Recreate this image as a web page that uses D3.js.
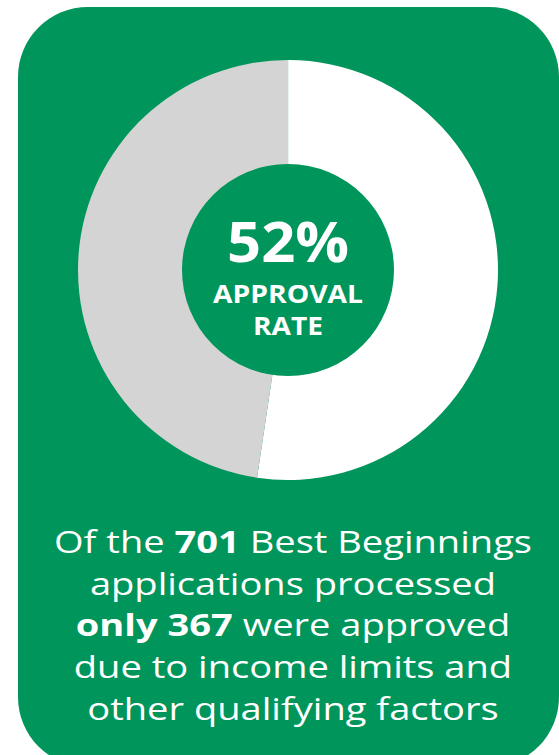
<!DOCTYPE html>
<html><head><meta charset="utf-8">
<script src="https://cdn.jsdelivr.net/npm/d3@7"></script>
<style>html,body{margin:0;padding:0;background:#fff;}svg{display:block;}</style>
</head><body>
<svg id="chart" width="559" height="755"></svg>
<script>
const categories = ["Approved", "Not approved"];
const values = [367, 334];
const sliceColors = ["#ffffff", "#d4d4d4"];
const centerLabels = ["52%", "APPROVAL", "RATE"];
const captionLines = [
  [["Of the ", false], ["701", true], [" Best Beginnings", false]],
  [["applications processed", false]],
  [["only 367", true], [" were approved", false]],
  [["due to income limits and", false]],
  [["other qualifying factors", false]]
];

const green = "#00955a";
const font = "'Open Sans', 'Noto Sans', sans-serif";
const svg = d3.select("#chart");

svg.append("rect").attr("x", 18).attr("y", 7).attr("width", 541).attr("height", 760)
  .attr("rx", 70).attr("ry", 70).attr("fill", green);

const cx = 288, cy = 270, rOuter = 210, rInner = 106;
const pie = d3.pie().sort(null).value(d => d)(values);
const arc = d3.arc().innerRadius(0).outerRadius(rOuter);
const g = svg.append("g").attr("transform", `translate(${cx},${cy})`);
g.selectAll("path").data(pie).join("path")
  .attr("d", arc).attr("fill", (d, i) => sliceColors[i]);
g.append("line").attr("x1", 0).attr("y1", -rOuter).attr("x2", 0).attr("y2", -rInner)
  .attr("stroke", "#bfe3d2").attr("stroke-width", 0.8);
g.append("circle").attr("r", rInner).attr("fill", green);

g.append("text").attr("text-anchor", "middle").attr("y", -8)
  .attr("font-family", font).attr("font-weight", 700).attr("font-size", 55)
  .attr("fill", "#fff").attr("textLength", 122).attr("lengthAdjust", "spacingAndGlyphs").text(centerLabels[0]);
g.append("text").attr("text-anchor", "middle").attr("y", 33)
  .attr("font-family", font).attr("font-weight", 700).attr("font-size", 25)
  .attr("fill", "#fff").attr("textLength", 150).attr("lengthAdjust", "spacingAndGlyphs").text(centerLabels[1]);
g.append("text").attr("text-anchor", "middle").attr("y", 65)
  .attr("font-family", font).attr("font-weight", 700).attr("font-size", 25)
  .attr("fill", "#fff").attr("textLength", 70).attr("lengthAdjust", "spacingAndGlyphs").text(centerLabels[2]);

// caption
const baseY = 553, lh = 41.7, capX = 293;
const fs = 30.4;
const cap = svg.append("g");
const texts = captionLines.map((parts, i) => {
  const t = cap.append("text").attr("x", capX).attr("y", baseY + i * lh)
    .attr("text-anchor", "middle").attr("font-family", font).attr("font-size", fs)
    .attr("fill", "#fff");
  parts.forEach(p => t.append("tspan").attr("font-weight", p[1] ? 700 : 400).text(p[0]));
  return t;
});
const k = 478 / texts[0].node().getComputedTextLength();
texts.forEach(t => {
  const w = t.node().getComputedTextLength();
  t.attr("textLength", w * k).attr("lengthAdjust", "spacingAndGlyphs");
});
</script>
</body></html>
